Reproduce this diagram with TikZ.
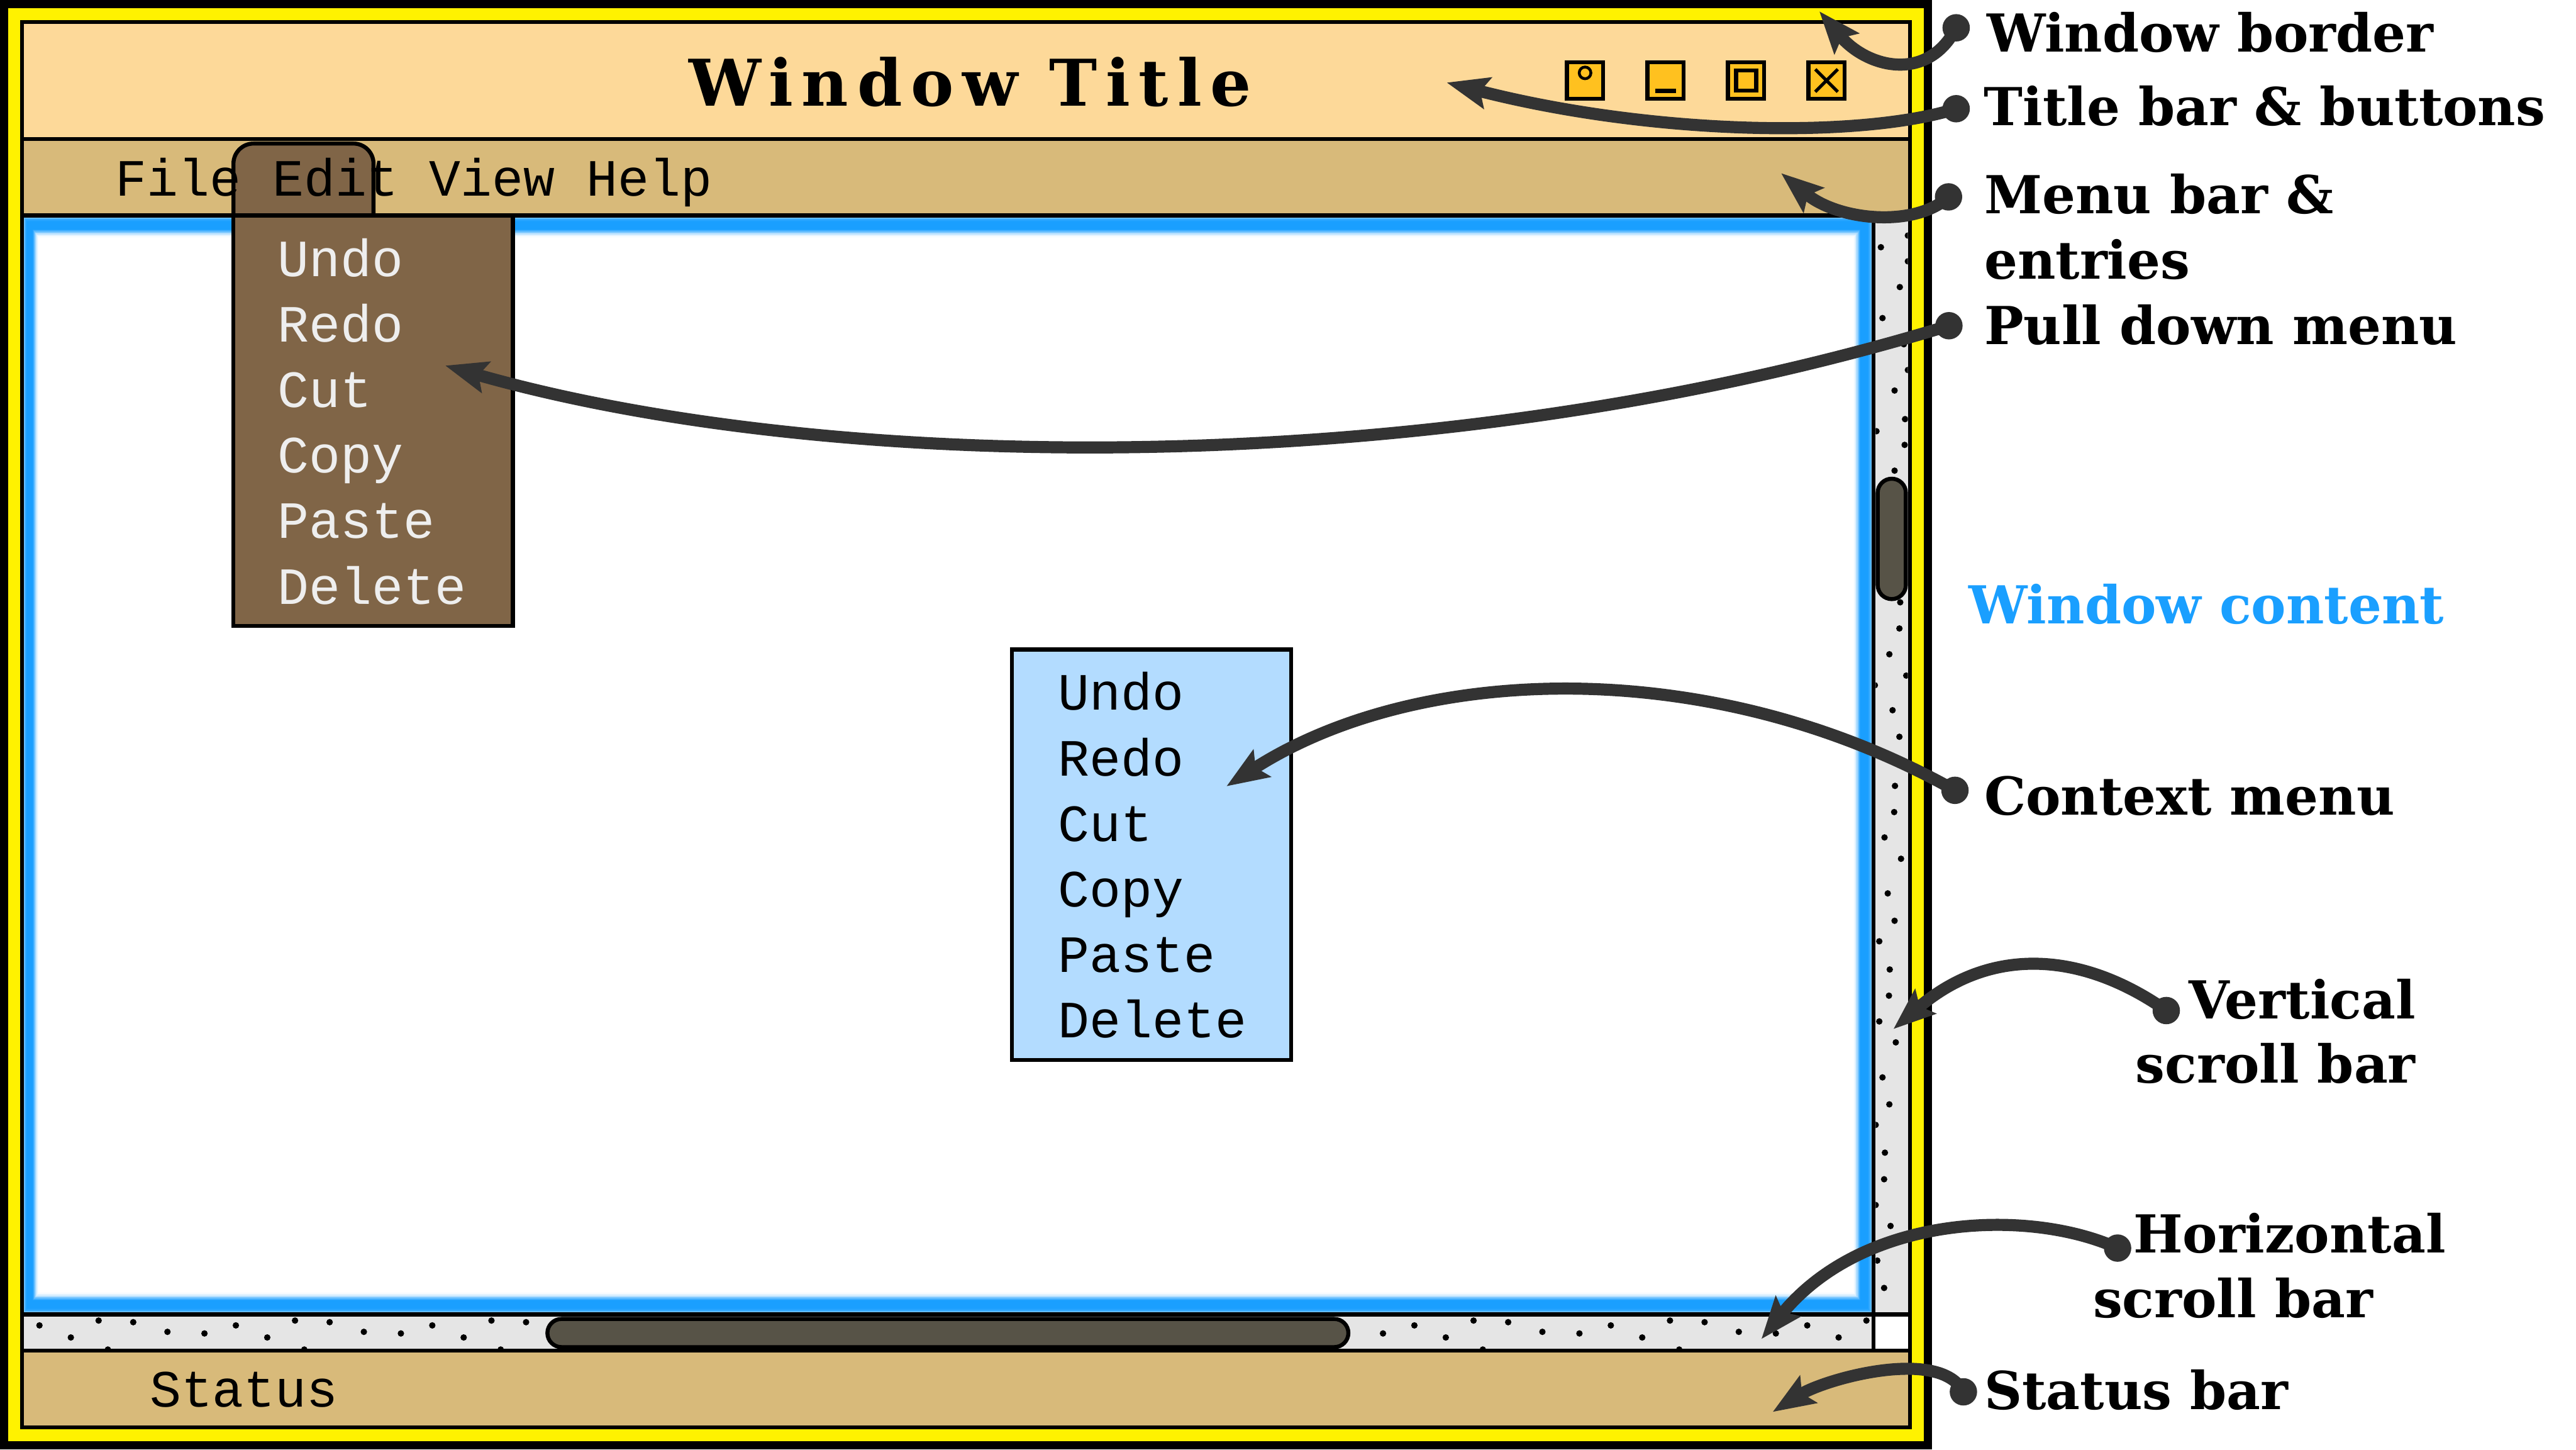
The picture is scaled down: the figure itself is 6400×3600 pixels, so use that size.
\documentclass[tikz,border=0pt]{standalone}
\usepackage{fontspec}
\usetikzlibrary{arrows.meta}
\setmainfont{DejaVu Serif}
\newfontfamily\lblfont{DejaVu Serif}
\newfontfamily\titlefont[LetterSpace=13.5]{DejaVu Serif}
\newfontfamily\monofont{Liberation Mono}
\definecolor{ctitle}{HTML}{FDD999}
\definecolor{cmenu}{HTML}{D8BA7A}
\definecolor{cbrown}{HTML}{806547}
\definecolor{ccontext}{HTML}{B3DCFF}
\definecolor{cgrey}{HTML}{E5E5E5}
\definecolor{cthumb}{HTML}{575347}
\definecolor{cbtn}{HTML}{FFC11F}
\definecolor{ccall}{HTML}{333333}
\definecolor{cblue}{HTML}{1A9FFF}
\definecolor{cpale}{HTML}{EEEEEE}
\tikzset{
  lbl/.style={anchor=base west,inner sep=0pt,font=\lblfont\bfseries\fontsize{13}{15}\selectfont},
  mono/.style={anchor=base west,inner sep=0pt,font=\monofont\fontsize{13}{15}\selectfont},
  panel/.style={draw=black,line width=1pt},
  btnbox/.style={panel,fill=cbtn},
  stip/.style={fill=black},
  thumb/.style={panel,fill=cthumb,rounded corners=3.5pt},
  dotnode/.style={circle,fill=ccall,inner sep=0pt,minimum size=6.8pt},
  callout/.style={draw=ccall,line width=3pt,-{Stealth[length=10.4pt,width=7.8pt,inset=1.8pt]}}
}
\begin{document}
\begin{tikzpicture}[x=0.1pt,y=-0.1pt]
\useasboundingbox (0,0) rectangle (6400,3600);
% window frame
\fill[black] (0,0) rectangle (4800,3600);
\fill[yellow] (20,20) rectangle (4780,3580);
\fill[black] (50,50) rectangle (4750,3550);
\fill[ctitle] (60,60) rectangle (4740,340);
\fill[cmenu] (60,350) rectangle (4740,530);
\fill[cmenu] (60,3360) rectangle (4740,3540);
% content with soft blue edge
\fill[white] (60,540) rectangle (4650,3260);
\foreach \d/\p in {0/60,2/75,4/86,6/94,8/98,10/100,28/100,30/94,32/84,34/70,36/55,38/40,40/27,42/17,44/10,46/5,48/2,50/0}{
  \fill[cblue!\p!white] ({60+.72*\d},{540+\d}) rectangle ({4650-.92*\d},{3260-\d});
}
% scroll bars
\fill[cgrey] (4660,540) rectangle (4740,3260);
\fill[cgrey] (60,3270) rectangle (4650,3350);
\fill[white] (4660,3270) rectangle (4740,3350);
\begin{scope}
  \clip (60,3270) rectangle (4650,3350);
  \foreach \n in {0,...,9}{
    \foreach \x/\y in {98/3292,245/3280,331/3284,176/3322,416/3308,508/3312,268/3352}{
      \fill[stip] ({\x+488*\n},\y) circle[radius=0.8pt];
    }
  }
\end{scope}
\begin{scope}
  \clip (4660,540) rectangle (4740,3260);
  \foreach \x/\y in {4740/585,4673/614,4740/649,4720/713,4677/790,4730/855,4740/919,4707/970,4733/1041,4662/1071,4732/1105,4707/1169,4721/1496,4719/1561,4694/1625,4736/1678,4658/1702,4702/1764,4719/1830,4708/1952,4706/2017,4682/2080,4723/2133,4690/2219,4707/2287,4669/2338,4695/2408,4693/2473,4669/2537,4710/2589,4677/2676,4694/2743,4660/2794,4683/2863,4681/2929,4660/2993,4697/3045,4664/3131,4681/3199}{
    \fill[stip] (\x,\y) circle[radius=0.8pt];
  }
\end{scope}
% separators
\fill[black] (4650,540) rectangle (4660,3360);
\fill[black] (60,3260) rectangle (4740,3270);
\fill[black] (60,3350) rectangle (4740,3360);
\draw[thumb] (4665,1189) rectangle (4735,1488);
\draw[thumb] (1360,3276) rectangle (3350,3346);
% title bar
\node[anchor=base west,inner sep=0pt,font=\titlefont\bfseries\fontsize{16}{18}\selectfont] (title) at (1709,263) {Window Title};
\foreach \x in {3938,4138,4338,4538}{
  \draw[btnbox] ({\x-45},155) rectangle ({\x+45},245);
}
\draw[black,line width=.7pt] (3938,181) circle[radius=1.45pt];
\fill[black] (4112,221) rectangle (4164,231);
\draw[black,line width=1pt] (4313,175) rectangle (4363,225);
\draw[black,line width=.8pt] (4510,172) -- (4566,228) (4566,172) -- (4510,228);
% menus
\draw[panel,fill=cbrown,rounded corners=5pt] (580,530) -- (580,356.5) -- (928,356.5) -- (928,530);
\fill[black] (575,530) rectangle (933,540);
\draw[panel,fill=cbrown] (580,535) rectangle (1274,1555);
\draw[panel,fill=ccontext] (2514,1613) rectangle (3208,2633);
\node[mono] (menutext) at (285,486) {File Edit View Help};
\node[mono] (statustext) at (370,3494) {Status};
\foreach \t/\k in {Undo/0,Redo/1,Cut/2,Copy/3,Paste/4,Delete/5}{
  \node[mono,text=cpale] (pm\k) at (688,{687+162.6*\k}) {\t};
  \node[mono] (cm\k) at (2627,{1764+162.6*\k}) {\t};
}
% labels
\node[lbl] (lwin) at (4934,129) {Window border};
\node[lbl] (ltit) at (4927,311) {Title bar \& buttons};
\node[lbl] (lmen) at (4928,530) {Menu bar \&};
\node[lbl] (lent) at (4928,693) {entries};
\node[lbl] (lpul) at (4928,856) {Pull down menu};
\node[lbl,text=cblue] (lcon) at (4890,1549) {Window content};
\node[lbl] (lctx) at (4928,2024) {Context menu};
\node[lbl] (lver) at (5437,2530) {Vertical};
\node[lbl] (lvsb) at (5304,2690) {scroll bar};
\node[lbl] (lhor) at (5298,3112) {Horizontal};
\node[lbl] (lhsb) at (5198,3272) {scroll bar};
\node[lbl] (lsta) at (4928,3500) {Status bar};
% callouts
\node[dotnode] (d1) at (4860,69) {};
\node[dotnode] (d2) at (4860,270) {};
\node[dotnode] (d3) at (4841,489) {};
\node[dotnode] (d4) at (4842,809) {};
\node[dotnode] (d5) at (4857,1963) {};
\node[dotnode] (d6) at (5382,2510) {};
\node[dotnode] (d7) at (5261,3100) {};
\node[dotnode] (d8) at (4878,3457) {};
\coordinate (t1) at (4520,28);
\coordinate (t2) at (3594,205);
\coordinate (t3) at (4425,430);
\coordinate (t4) at (1106,908);
\coordinate (t5) at (3047,1953);
\coordinate (t6) at (4704,2556);
\coordinate (t7) at (4376,3326);
\coordinate (t8) at (4404,3507);
\draw[callout] (d1.center) .. controls (4790,205) and (4640,170) .. (t1);
\draw[callout] (d2.center) .. controls (4620,345) and (4100,335) .. (t2);
\draw[callout] (d3.center) .. controls (4760,565) and (4570,550) .. (t3);
\draw[callout] (d4.center) .. controls (3560,1200) and (2060,1180) .. (t4);
\draw[callout] (d5.center) .. controls (4250,1622) and (3520,1648) .. (t5);
\draw[callout] (d6.center) .. controls (5171,2362) and (4944,2350) .. (t6);
\draw[callout] (d7.center) .. controls (5040,3000) and (4630,3015) .. (t7);
\draw[callout] (d8.center) .. controls (4820,3345) and (4534,3425) .. (t8);
\end{tikzpicture}
\end{document}
